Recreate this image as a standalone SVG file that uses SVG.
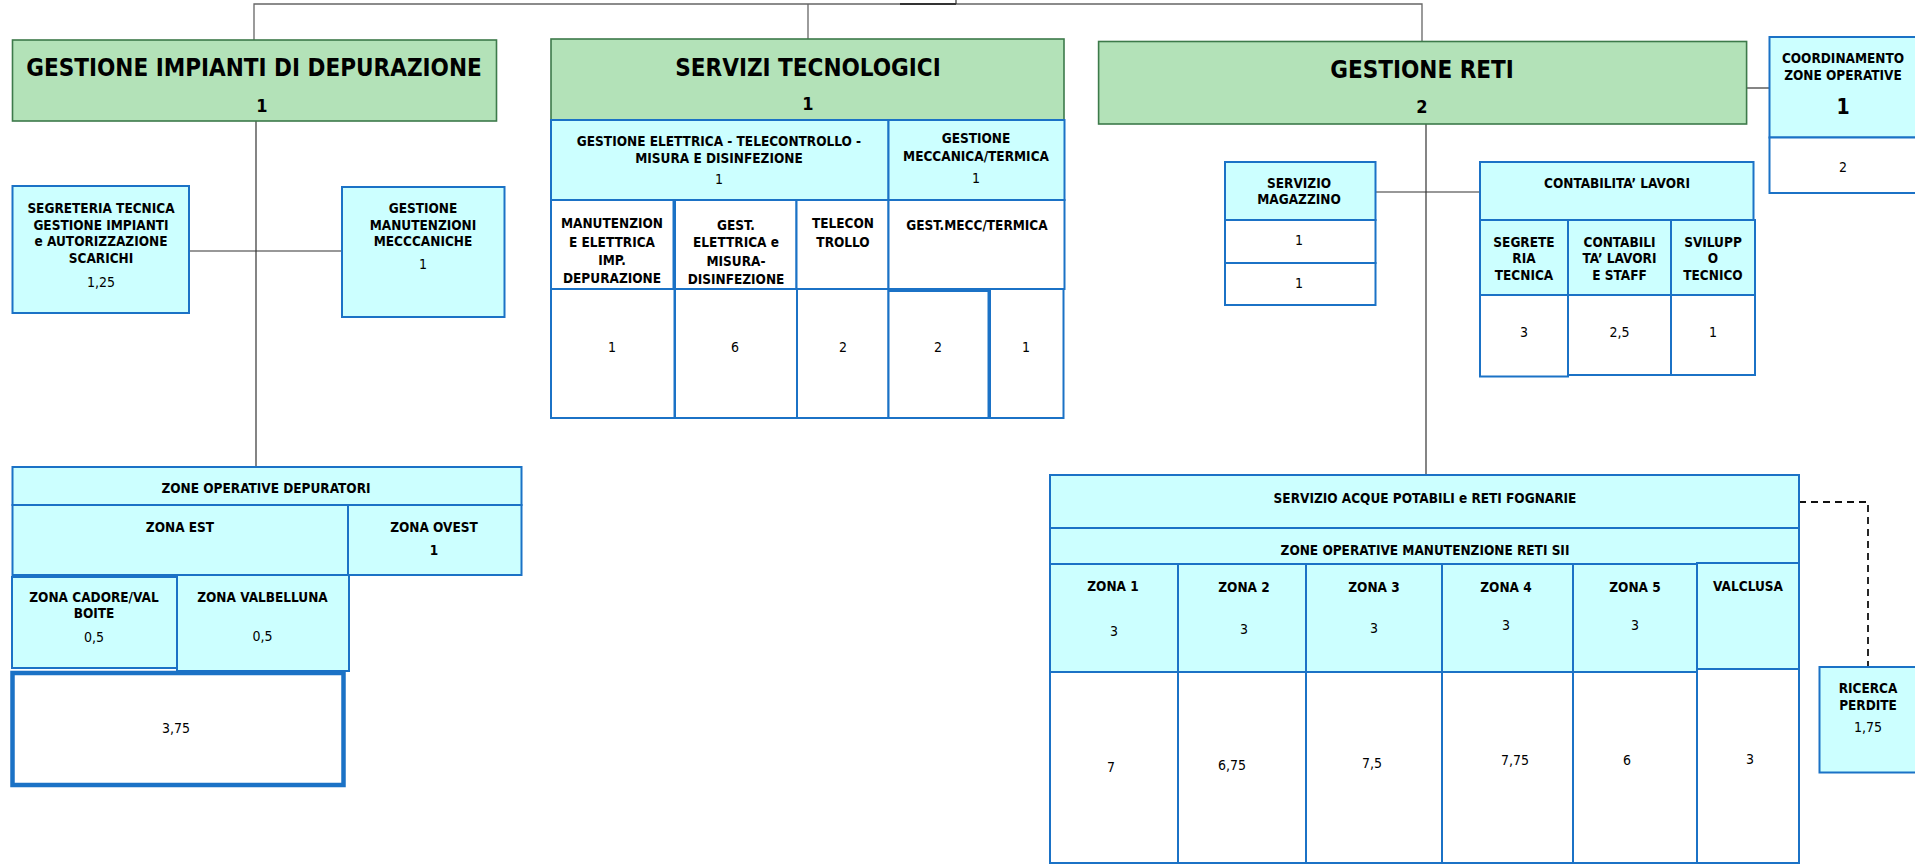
<svg xmlns="http://www.w3.org/2000/svg" width="1915" height="865" viewBox="0 0 1915 865">
<style>
text{font-family:"DejaVu Sans Condensed","DejaVu Sans",sans-serif;font-stretch:condensed;fill:#000;text-anchor:middle}
.g{fill:#b3e2b8;stroke:#3d7a4a;stroke-width:1.6}
.c{fill:#ccffff;stroke:#1b72c6;stroke-width:2}
.w{fill:#ffffff;stroke:#1b72c6;stroke-width:2}
.wt{fill:#ffffff;stroke:#1b72c6;stroke-width:4.5}
.t{font-size:24px;font-weight:bold}
.tn{font-size:18px;font-weight:bold}
.b{font-size:13.5px;font-weight:bold}
.n{font-size:14px}
.ln{fill:none;stroke:#333;stroke-width:1.2}
.lt{fill:none;stroke:#666;stroke-width:1.3}
</style>
<g id="connectors">
<polyline class="lt" points="254,41 254,4 1422,4 1422,41"/>
<line class="lt" x1="808" y1="4" x2="808" y2="39"/>
<line x1="900" y1="4" x2="956" y2="4" stroke="#333" stroke-width="1.8"/>
<line x1="956" y1="0" x2="956" y2="4" stroke="#333" stroke-width="1.2"/>
<line class="ln" x1="256" y1="121" x2="256" y2="467"/>
<line class="ln" x1="189" y1="251" x2="342" y2="251"/>
<line class="ln" x1="1426" y1="124" x2="1426" y2="475"/>
<line class="ln" x1="1375" y1="192" x2="1480" y2="192"/>
<line class="ln" x1="1747" y1="88" x2="1769" y2="88"/>
<polyline points="1799,502 1868,502 1868,667" fill="none" stroke="#111" stroke-width="1.8" stroke-dasharray="7 5"/>
</g>
<g id="gestione-impianti">
<rect class="g" x="12.5" y="40" width="484" height="81"/>
<text class="t" x="254" y="76">GESTIONE IMPIANTI DI DEPURAZIONE</text>
<text class="tn" x="262" y="112">1</text>
</g>
<g id="segreteria-tecnica">
<rect class="c" x="12.5" y="186" width="176.5" height="127"/>
<text class="b" x="101" y="213">SEGRETERIA TECNICA</text>
<text class="b" x="101" y="230">GESTIONE IMPIANTI</text>
<text class="b" x="101" y="246">e AUTORIZZAZIONE</text>
<text class="b" x="101" y="263">SCARICHI</text>
<text class="n" x="101" y="287">1,25</text>
</g>
<g id="gestione-manutenzioni">
<rect class="c" x="342" y="187" width="162.5" height="130"/>
<text class="b" x="423" y="213">GESTIONE</text>
<text class="b" x="423" y="230">MANUTENZIONI</text>
<text class="b" x="423" y="246">MECCCANICHE</text>
<text class="n" x="423" y="269">1</text>
</g>
<g id="zone-operative-depuratori">
<rect class="c" x="12.5" y="467" width="509" height="38"/>
<text class="b" x="266" y="493">ZONE OPERATIVE DEPURATORI</text>
<rect class="c" x="12.5" y="505" width="335.5" height="70"/>
<text class="b" x="180" y="532">ZONA EST</text>
<rect class="c" x="348" y="505" width="173.5" height="70"/>
<text class="b" x="434" y="532">ZONA OVEST</text>
<text class="b" x="434" y="555">1</text>
<rect class="c" x="12" y="577" width="165" height="91"/>
<text class="b" x="94" y="602">ZONA CADORE/VAL</text>
<text class="b" x="94" y="618">BOITE</text>
<text class="n" x="94" y="642">0,5</text>
<rect class="c" x="177" y="575" width="172" height="96"/>
<text class="b" x="262.5" y="602">ZONA VALBELLUNA</text>
<text class="n" x="262.5" y="641">0,5</text>
<rect class="wt" x="12.5" y="673" width="331" height="112"/>
<text class="n" x="176" y="733">3,75</text>
</g>
<g id="servizi-tecnologici">
<rect class="g" x="551" y="39" width="513" height="81"/>
<text class="t" x="808" y="76">SERVIZI TECNOLOGICI</text>
<text class="tn" x="808" y="110">1</text>
</g>
<g id="gestione-elettrica">
<rect class="c" x="551" y="120" width="337.5" height="80"/>
<text class="b" x="719" y="146">GESTIONE ELETTRICA - TELECONTROLLO -</text>
<text class="b" x="719" y="163">MISURA E DISINFEZIONE</text>
<text class="n" x="719" y="184">1</text>
</g>
<g id="gestione-meccanica">
<rect class="c" x="888.5" y="120" width="176" height="80"/>
<text class="b" x="976" y="143">GESTIONE</text>
<text class="b" x="976" y="161">MECCANICA/TERMICA</text>
<text class="n" x="976" y="183">1</text>
</g>
<g id="manutenzione-elettrica">
<rect class="w" x="551" y="200" width="122.5" height="89"/>
<text class="b" x="612" y="228">MANUTENZION</text>
<text class="b" x="612" y="247">E ELETTRICA</text>
<text class="b" x="612" y="265">IMP.</text>
<text class="b" x="612" y="283">DEPURAZIONE</text>
<rect class="w" x="551" y="289" width="123.5" height="129"/>
<text class="n" x="612" y="352">1</text>
</g>
<g id="gest-elettrica-misura">
<rect class="w" x="675" y="200" width="121.5" height="89"/>
<text class="b" x="736" y="230">GEST.</text>
<text class="b" x="736" y="247">ELETTRICA e</text>
<text class="b" x="736" y="266">MISURA-</text>
<text class="b" x="736" y="284">DISINFEZIONE</text>
<rect class="w" x="675" y="289" width="122" height="129"/>
<text class="n" x="735" y="352">6</text>
</g>
<g id="telecontrollo">
<rect class="w" x="796.5" y="200" width="92" height="89"/>
<text class="b" x="843" y="228">TELECON</text>
<text class="b" x="843" y="247">TROLLO</text>
<rect class="w" x="797" y="289" width="91.5" height="129"/>
<text class="n" x="843" y="352">2</text>
</g>
<g id="gest-mecc-termica">
<rect class="w" x="888.5" y="200" width="176" height="89"/>
<text class="b" x="977" y="230">GEST.MECC/TERMICA</text>
<rect class="w" x="888.5" y="291" width="100" height="127"/>
<text class="n" x="938" y="352">2</text>
<rect class="w" x="990" y="289" width="73.5" height="129"/>
<text class="n" x="1026" y="352">1</text>
</g>
<g id="gestione-reti">
<rect class="g" x="1098.6" y="41.5" width="648" height="82.5"/>
<text class="t" x="1422" y="77.7">GESTIONE RETI</text>
<text class="tn" x="1422" y="113">2</text>
</g>
<g id="coordinamento-zone-operative">
<rect class="c" x="1769.5" y="37" width="160" height="100.5"/>
<text class="b" x="1843" y="63">COORDINAMENTO</text>
<text class="b" x="1843" y="80">ZONE OPERATIVE</text>
<text class="b" x="1843" y="114" style="font-size:21px">1</text>
<rect class="w" x="1769.5" y="137.5" width="160" height="55.5"/>
<text class="n" x="1843" y="172">2</text>
</g>
<g id="servizio-magazzino">
<rect class="c" x="1225" y="162" width="150.5" height="58"/>
<text class="b" x="1299" y="188">SERVIZIO</text>
<text class="b" x="1299" y="204">MAGAZZINO</text>
<rect class="w" x="1225" y="220" width="150.5" height="43"/>
<text class="n" x="1299" y="245">1</text>
<rect class="w" x="1225" y="263" width="150.5" height="42"/>
<text class="n" x="1299" y="288">1</text>
</g>
<g id="contabilita-lavori">
<rect class="c" x="1480" y="162" width="273.5" height="58"/>
<text class="b" x="1617" y="188">CONTABILITA’ LAVORI</text>
</g>
<g id="segreteria-tecnica-reti">
<rect class="c" x="1480" y="220" width="88" height="75"/>
<text class="b" x="1524" y="247">SEGRETE</text>
<text class="b" x="1524" y="263">RIA</text>
<text class="b" x="1524" y="280">TECNICA</text>
<rect class="w" x="1480" y="295" width="88" height="81.5"/>
<text class="n" x="1524" y="337">3</text>
</g>
<g id="contabilita-staff">
<rect class="c" x="1568" y="220" width="103" height="75"/>
<text class="b" x="1619.5" y="247">CONTABILI</text>
<text class="b" x="1619.5" y="263">TA’ LAVORI</text>
<text class="b" x="1619.5" y="280">E STAFF</text>
<rect class="w" x="1568" y="295" width="103" height="80"/>
<text class="n" x="1619.5" y="337">2,5</text>
</g>
<g id="sviluppo-tecnico">
<rect class="c" x="1671" y="220" width="84" height="75"/>
<text class="b" x="1713" y="247">SVILUPP</text>
<text class="b" x="1713" y="263">O</text>
<text class="b" x="1713" y="280">TECNICO</text>
<rect class="w" x="1671" y="295" width="84" height="80"/>
<text class="n" x="1713" y="337">1</text>
</g>
<g id="servizio-acque">
<rect class="c" x="1050" y="475" width="749" height="53"/>
<text class="b" x="1425" y="503">SERVIZIO ACQUE POTABILI e RETI FOGNARIE</text>
<rect class="c" x="1050" y="528" width="749" height="36"/>
<text class="b" x="1425" y="555">ZONE OPERATIVE MANUTENZIONE RETI SII</text>
</g>
<g id="zona-1">
<rect class="c" x="1050" y="564" width="128" height="108"/>
<text class="b" x="1113" y="591">ZONA 1</text>
<text class="n" x="1114" y="636">3</text>
<rect class="w" x="1050" y="672" width="128" height="191"/>
<text class="n" x="1111" y="772">7</text>
</g>
<g id="zona-2">
<rect class="c" x="1178" y="564" width="128" height="108"/>
<text class="b" x="1244" y="592">ZONA 2</text>
<text class="n" x="1244" y="634">3</text>
<rect class="w" x="1178" y="672" width="128" height="191"/>
<text class="n" x="1232" y="770">6,75</text>
</g>
<g id="zona-3">
<rect class="c" x="1306" y="564" width="136" height="108"/>
<text class="b" x="1374" y="592">ZONA 3</text>
<text class="n" x="1374" y="633">3</text>
<rect class="w" x="1306" y="672" width="136" height="191"/>
<text class="n" x="1372" y="768">7,5</text>
</g>
<g id="zona-4">
<rect class="c" x="1442" y="564" width="131" height="108"/>
<text class="b" x="1506" y="592">ZONA 4</text>
<text class="n" x="1506" y="630">3</text>
<rect class="w" x="1442" y="672" width="131" height="191"/>
<text class="n" x="1515" y="765">7,75</text>
</g>
<g id="zona-5">
<rect class="c" x="1573" y="564" width="124" height="108"/>
<text class="b" x="1635" y="592">ZONA 5</text>
<text class="n" x="1635" y="630">3</text>
<rect class="w" x="1573" y="672" width="124" height="191"/>
<text class="n" x="1627" y="765">6</text>
</g>
<g id="valclusa">
<rect class="c" x="1697" y="563" width="102" height="106"/>
<text class="b" x="1748" y="591">VALCLUSA</text>
<rect class="w" x="1697" y="669" width="102" height="194"/>
<text class="n" x="1750" y="764">3</text>
</g>
<g id="ricerca-perdite">
<rect class="c" x="1819.5" y="667" width="120" height="105.5"/>
<text class="b" x="1868" y="693">RICERCA</text>
<text class="b" x="1868" y="710">PERDITE</text>
<text class="n" x="1868" y="732">1,75</text>
</g>
</svg>
